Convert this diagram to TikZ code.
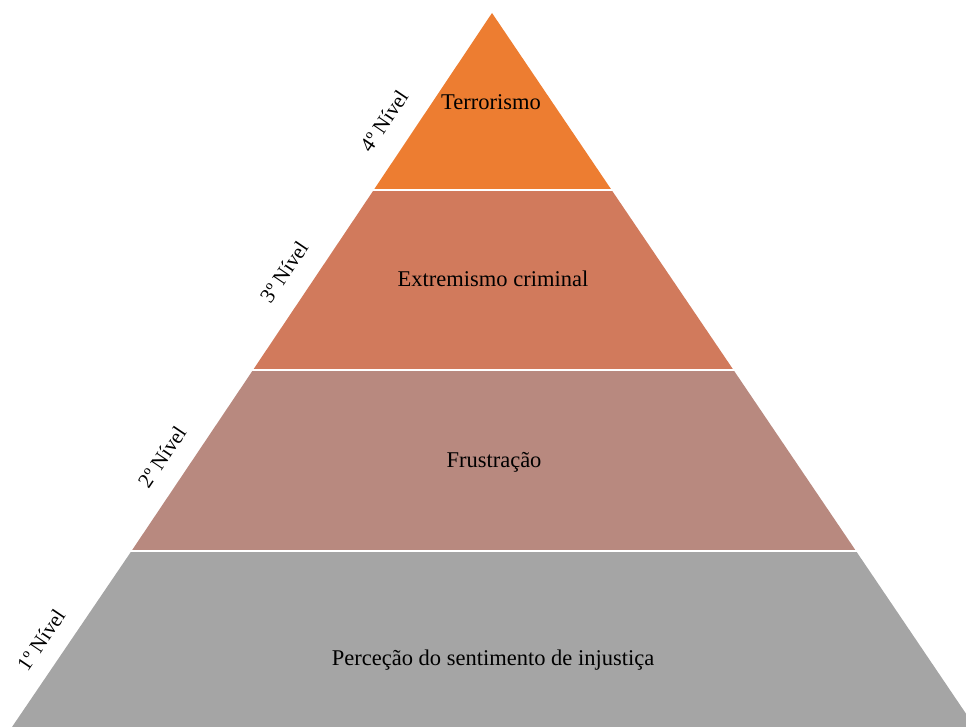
\documentclass[tikz,border=0pt]{standalone}
\usepackage{fontspec}
\setmainfont{Liberation Serif}
\begin{document}
\begin{tikzpicture}[x=1pt,y=-1pt,
  tierlabel/.style={font=\fontsize{22.5}{26}\selectfont, text=black, inner sep=0pt},
  sidelabel/.style={font=\fontsize{21}{24}\selectfont, text=black, inner sep=0pt, rotate=56},
  sep/.style={draw=white, line width=1.6pt}]
\useasboundingbox (0,0) rectangle (966,727);
\definecolor{cfour}{HTML}{ED7D31}
\definecolor{cthree}{HTML}{D17A5C}
\definecolor{ctwo}{HTML}{B8897F}
\definecolor{cone}{HTML}{A5A5A5}
\begin{scope}
\clip (0,0) rectangle (966,727);
\coordinate (apex) at (492,13);
\coordinate (l1) at (373.7,190);
\coordinate (r1) at (611.6,190);
\coordinate (l2) at (253,370);
\coordinate (r2) at (733.5,370);
\coordinate (l3) at (131.5,551);
\coordinate (r3) at (856,551);
\coordinate (l4) at (12,727);
\coordinate (r4) at (975,727);
\fill[cfour] (apex) -- (r1) -- (l1) -- cycle;
\fill[cthree] (l1) -- (r1) -- (r2) -- (l2) -- cycle;
\fill[ctwo] (l2) -- (r2) -- (r3) -- (l3) -- cycle;
\fill[cone] (l3) -- (r3) -- (r4) -- (l4) -- cycle;
\draw[sep] ([xshift=-3pt]l1) -- ([xshift=3pt]r1);
\draw[sep] ([xshift=-3pt]l2) -- ([xshift=3pt]r2);
\draw[sep] ([xshift=-3pt]l3) -- ([xshift=3pt]r3);
\end{scope}
\node[tierlabel] (t4) at (491,102) {Terrorismo};
\node[tierlabel] (t3) at (493,279) {Extremismo criminal};
\node[tierlabel] (t2) at (494,462) {Frustração};
\node[tierlabel] (t1) at (493,660) {Perceção do sentimento de injustiça};
\node[sidelabel] (s4) at (384,121) {4º Nível};
\node[sidelabel] (s3) at (284,272) {3º Nível};
\node[sidelabel] (s2) at (162,457) {2º Nível};
\node[sidelabel] (s1) at (41,640) {1º Nível};
\end{tikzpicture}
\end{document}
